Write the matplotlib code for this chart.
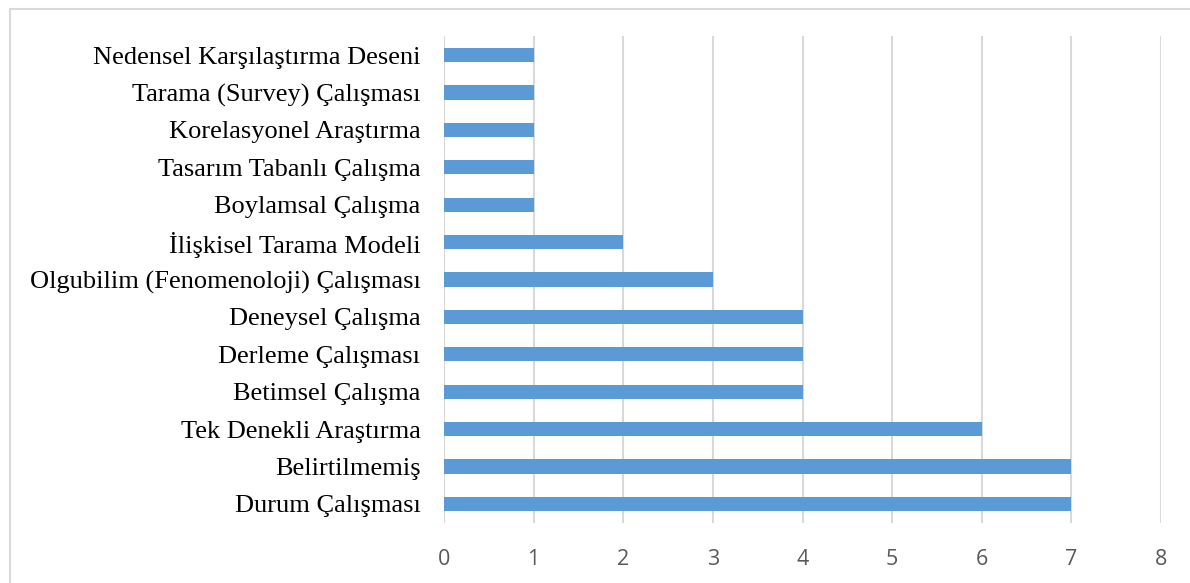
import matplotlib.pyplot as plt
from matplotlib.patches import Rectangle

# categorias de abajo hacia arriba
categorias = [
    "Durum Çalışması",
    "Belirtilmemiş",
    "Tek Denekli Araştırma",
    "Betimsel Çalışma",
    "Derleme Çalışması",
    "Deneysel Çalışma",
    "Olgubilim (Fenomenoloji) Çalışması",
    "İlişkisel Tarama Modeli",
    "Boylamsal Çalışma",
    "Tasarım Tabanlı Çalışma",
    "Korelasyonel Araştırma",
    "Tarama (Survey) Çalışması",
    "Nedensel Karşılaştırma Deseni",
]
valores = [7, 7, 6, 4, 4, 4, 3, 2, 1, 1, 1, 1, 1]
ticks_x = [0, 1, 2, 3, 4, 5, 6, 7, 8]

fig = plt.figure(figsize=(11.9, 5.83), dpi=100)
ax = fig.add_axes([444 / 1190, 1 - 522.7 / 583, (1161 - 444) / 1190, (522.7 - 36.3) / 583])

ax.barh(range(len(categorias)), valores, height=0.38, color="#5B9BD5", zorder=3)

ax.set_xlim(0, 8)
ax.set_ylim(-0.5, len(categorias) - 0.5)
ax.set_xticks(ticks_x)
ax.set_xticklabels([str(t) for t in ticks_x], fontsize=15.5, color="#595959",
                   fontfamily="Open Sans")
ax.set_yticks(range(len(categorias)))
ax.set_yticklabels(categorias, fontsize=19, fontfamily="Liberation Serif", color="black")
ax.tick_params(axis="both", length=0)
ax.tick_params(axis="x", pad=19)
ax.tick_params(axis="y", pad=17)

ax.grid(axis="x", color="#D9D9D9", linewidth=1.5, zorder=0)
for s in ax.spines.values():
    s.set_visible(False)

# borde del grafico
fig.patches.append(Rectangle((10 / 1190, -0.1), 1.2, 1 - 9 / 583 + 0.1,
                             transform=fig.transFigure, fill=False,
                             edgecolor="#D9D9D9", linewidth=1.5))

fig.savefig("out.png", dpi=100)
